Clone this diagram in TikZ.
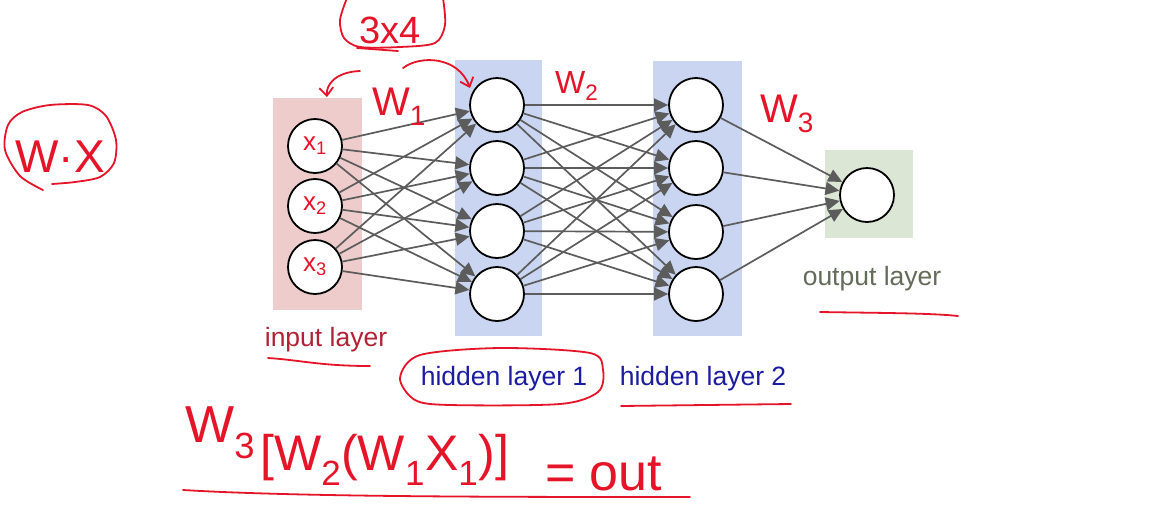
\documentclass[tikz,border=0pt]{standalone}
\usepackage{fontspec}
\setmainfont{Liberation Sans}
\usetikzlibrary{arrows.meta}
\definecolor{inpink}{RGB}{238,204,204}
\definecolor{hidblue}{RGB}{202,214,241}
\definecolor{outgreen}{RGB}{220,230,212}
\definecolor{conngray}{RGB}{92,92,92}
\definecolor{inkred}{RGB}{230,20,40}
\definecolor{inlabel}{RGB}{178,34,52}
\definecolor{hidlabel}{RGB}{28,28,160}
\definecolor{outlabel}{RGB}{98,108,88}
\begin{document}
\begin{tikzpicture}[x=1pt,y=-1pt,
  neuron/.style={circle,draw=black,line width=1.8pt,fill=white,minimum size=54pt,inner sep=0pt},
  conn/.style={draw=conngray,line width=1.7pt,-{Triangle[length=14pt,width=13pt]}},
  ink/.style={draw=inkred,line width=1.8pt,line cap=round,line join=round},
  inktext/.style={text=inkred,inner sep=0pt},
  lbl/.style={font=\fontsize{26.5}{30}\selectfont,anchor=base,inner sep=0pt}]
\useasboundingbox (0,0) rectangle (1175,504);
\fill[white] (0,0) rectangle (1175,504);
% layer backgrounds
\fill[inpink] (273,98) rectangle (362,310);
\fill[hidblue] (455,60) rectangle (542,336);
\fill[hidblue] (653,61) rectangle (742,336);
\fill[outgreen] (825,150) rectangle (913,238);
% neurons
\node[neuron] (i1) at (315,146) {\color{inkred}\fontsize{26}{28}\selectfont x\textsubscript{1}};
\node[neuron] (i2) at (315,206) {\color{inkred}\fontsize{26}{28}\selectfont x\textsubscript{2}};
\node[neuron] (i3) at (315,267) {\color{inkred}\fontsize{26}{28}\selectfont x\textsubscript{3}};
\node[neuron] (h1) at (497,105) {};
\node[neuron] (h2) at (497,168) {};
\node[neuron] (h3) at (497,231) {};
\node[neuron] (h4) at (497,294) {};
\node[neuron] (g1) at (696,105) {};
\node[neuron] (g2) at (696,168) {};
\node[neuron] (g3) at (696,232) {};
\node[neuron] (g4) at (696,294) {};
\node[neuron] (o1) at (867,195) {};
% connections
\foreach \a in {1,2,3} \foreach \b in {1,2,3,4} \draw[conn] (i\a) -- (h\b);
\foreach \a in {1,2,3,4} \foreach \b in {1,2,3,4} \draw[conn] (h\a) -- (g\b);
\foreach \a in {1,2,3,4} \draw[conn] (g\a) -- (o1);
% layer labels
\node[lbl,text=inlabel] (lin) at (326,346) {input layer};
\node[lbl,text=hidlabel] (lh1) at (504,385) {hidden layer 1};
\node[lbl,text=hidlabel] (lh2) at (703,385) {hidden layer 2};
\node[lbl,text=outlabel] (lout) at (872,285) {output layer};
% red annotations: text
\node[inktext,font=\fontsize{38}{40}\selectfont,anchor=base] (t34) at (390,43) {3x4};
\node[inktext,font=\fontsize{40}{40}\selectfont,anchor=base west] (w1) at (372,115) {W\textsubscript{1}};
\node[inktext,font=\fontsize{32}{34}\selectfont,anchor=base west] (w2) at (555,93) {W\textsubscript{2}};
\node[inktext,font=\fontsize{40}{40}\selectfont,anchor=base west] (w3) at (760,122) {W\textsubscript{3}};
\node[inktext,font=\fontsize{46}{48}\selectfont,anchor=base] (wx) at (60,172) {W·X};
\node[inktext,font=\fontsize{52}{54}\selectfont,anchor=base west] (f1) at (185,442) {W\textsubscript{3}};
\node[inktext,font=\fontsize{50}{52}\selectfont,anchor=base west] (f2) at (260,470) {[W\textsubscript{2}(W\textsubscript{1}X\textsubscript{1})]};
\node[inktext,font=\fontsize{52}{54}\selectfont,anchor=base west] (f3) at (545,490) {= out};
% red annotations: strokes
\draw[ink] plot[smooth] coordinates {(347,-2) (340,20) (344,38) (360,47) (400,47) (435,43) (445,25) (443,-2)};
\draw[ink] (357,48) -- (398,51);
\draw[ink,-{Straight Barb[length=8pt,width=14pt]}] (360,71) .. controls (335,72) and (326,85) .. (327,97);
\draw[ink,-{Straight Barb[length=8pt,width=14pt]}] (403,68) .. controls (420,55) and (458,56) .. (470,88);
\draw[ink] plot[smooth] coordinates {(43,190) (20,176) (5,150) (8,125) (22,112) (50,105) (88,105) (106,116) (116,140) (114,163) (100,177) (75,182) (52,184)};
\draw[ink] plot[smooth cycle] coordinates {(500,348) (420,355) (400,378) (415,400) (450,405) (560,404) (598,392) (603,370) (590,353)};
\draw[ink] (268,358) .. controls (300,360) and (320,366) .. (370,366);
\draw[ink] (621,406) -- (791,404);
\draw[ink] (820,312) .. controls (880,313) and (930,313) .. (958,316);
\draw[ink] (183,490) .. controls (300,497) and (500,497) .. (690,497);
\end{tikzpicture}
\end{document}
